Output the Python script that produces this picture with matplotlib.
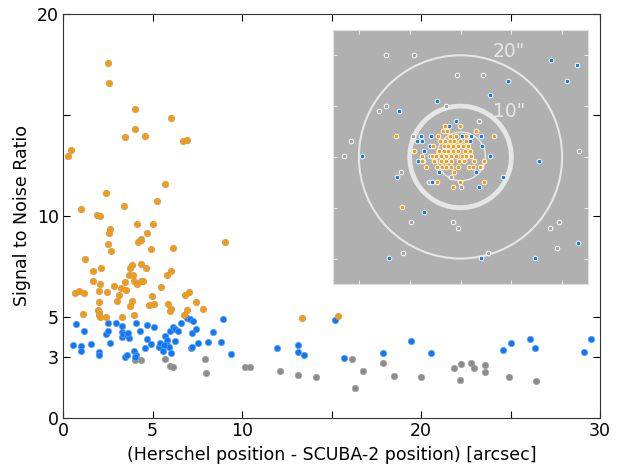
import numpy as np
import matplotlib
matplotlib.use("Agg")
import matplotlib.pyplot as plt
import matplotlib.patches as patches

# main panel: offset [arcsec] vs S/N
orange_x = [2.50, 2.59, 4.02, 6.03, 4.04, 3.45, 4.56, 6.69, 6.93, 0.43, 0.26, 5.72, 2.38, 0.99, 3.39,
            5.25, 1.88, 2.07, 2.63, 2.59, 4.13, 5.03, 4.67, 4.34, 2.51, 2.70, 4.36, 4.21, 4.93, 6.16,
            9.03, 1.25, 1.66, 2.12, 3.84, 3.76, 4.36, 4.64, 3.69, 3.93, 6.03, 5.79, 1.66, 2.09, 3.46,
            3.98, 4.12, 4.36, 4.47, 2.83, 3.26, 3.54, 5.47, 0.67, 0.89, 1.16, 2.03, 2.44, 3.15, 4.97,
            6.80, 7.06, 7.43, 2.03, 3.03, 3.85, 3.72, 4.79, 5.08, 5.88, 1.10, 1.96, 2.01, 2.03, 2.07,
            2.40, 3.31, 3.95, 6.03, 5.96, 6.91, 6.78, 7.82, 13.35, 15.36]
orange_y = [17.59, 16.58, 15.30, 14.85, 14.29, 13.90, 13.96, 13.73, 13.76, 13.27, 12.99, 11.57, 11.15, 10.36, 10.50,
            10.74, 10.06, 10.00, 9.37, 9.14, 9.59, 9.62, 9.16, 8.85, 8.63, 8.27, 8.81, 8.70, 8.35, 8.42,
            8.70, 7.86, 7.26, 7.43, 7.56, 7.44, 7.64, 7.44, 7.08, 7.08, 7.26, 7.08, 6.80, 6.65, 6.73,
            6.80, 6.63, 6.77, 6.77, 6.53, 6.45, 6.35, 6.50, 6.20, 6.30, 6.19, 6.30, 6.24, 6.09, 6.02,
            6.07, 6.22, 5.76, 5.74, 5.79, 5.81, 5.53, 5.59, 5.66, 5.64, 5.16, 5.35, 5.23, 5.08, 4.99,
            4.99, 5.01, 5.10, 5.41, 5.28, 5.35, 5.08, 5.38, 4.97, 5.05]

blue_x = [0.73, 1.19, 0.58, 1.01, 1.02, 1.58, 1.99, 2.01, 2.53, 2.94, 2.40, 2.50, 2.63, 3.30, 3.31,
          3.28, 3.37, 3.58, 3.67, 3.61, 3.46, 3.56, 3.98, 4.08, 4.01, 4.10, 4.30, 4.67, 5.07, 4.67,
          4.90, 4.58, 5.36, 5.44, 5.60, 5.72, 5.83, 5.79, 5.90, 5.99, 6.16, 6.26, 6.27, 6.41, 6.01,
          5.63, 6.59, 6.91, 7.09, 7.26, 7.19, 7.43, 7.13, 7.21, 7.56, 8.10, 8.38, 8.81, 8.96, 9.40,
          11.97, 13.11, 13.13, 13.48, 15.21, 15.68, 17.88, 19.44, 20.56, 24.56, 25.05, 26.09, 26.35, 29.11, 29.50]
blue_y = [4.65, 4.29, 3.61, 3.55, 3.33, 3.66, 3.28, 3.12, 4.69, 4.70, 4.16, 4.32, 3.71, 4.54, 4.24,
          4.02, 4.16, 4.12, 3.98, 4.19, 3.00, 3.10, 3.30, 3.10, 3.00, 4.70, 4.31, 4.62, 4.52, 3.91,
          3.66, 3.48, 3.50, 3.71, 3.30, 4.06, 3.86, 3.63, 3.53, 4.29, 4.52, 4.42, 3.83, 4.31, 3.20,
          3.61, 4.69, 4.97, 4.89, 4.82, 4.21, 4.39, 3.45, 3.53, 3.70, 3.76, 4.27, 3.78, 4.89, 3.18,
          3.47, 3.60, 3.25, 3.13, 4.85, 2.99, 3.20, 3.81, 3.20, 3.37, 3.73, 3.93, 3.47, 3.28, 3.93]

grey_x = [4.01, 4.36, 5.68, 5.99, 6.16, 7.95, 7.97, 10.18, 10.43, 12.11, 13.15, 14.15, 16.13, 16.76,
          16.31, 17.88, 18.47, 19.98, 21.86, 22.25, 22.18, 22.79, 22.98, 23.56, 23.56, 24.92, 26.44]
grey_y = [2.87, 2.86, 2.92, 2.59, 2.52, 2.92, 2.24, 2.54, 2.52, 2.34, 2.11, 2.01, 2.94, 2.31,
          1.47, 2.71, 2.06, 2.01, 2.49, 2.66, 1.88, 2.71, 2.49, 2.62, 2.26, 2.01, 1.85]

# inset: positions relative to SCUBA-2 source [arcsec]
in_grey_x = [-14.6, -9.2, -0.6, 4.4, -14.7, -16.0, -2.9, -21.6, -22.9, 23.3, -11.8, -1.8, 0.1, 3.7,
             -9.8, -1.4, -0.4, 19.3, 17.6, 18.9, -11.3, 5.5, -9.4, -6.2]
in_grey_y = [20.1, 20.1, 16.1, 16.1, 10.1, 9.0, 10.1, 3.1, 0.1, 1.1, -2.9, -3.9, -5.9, 7.1,
             -12.9, -12.9, -13.9, -12.9, -13.9, -18.0, -19.0, -19.0, 4.1, -4.9]

in_blue_x = [17.8, 22.9, 9.4, 21.0, 5.8, -4.6, -12.2, -0.8, -19.4, 15.4, 8.3, 3.7, -12.5, -7.2,
             -14.0, 4.1, 14.7, 23.2, 5.8, -2.2, -7.8, -5.9, 2.0, 4.0, -8.5, -7.6, 1.9, -6.1, 4.3,
             -7.2, -6.1, -8.4, -7.4, -4.2, 3.0, 4.0, -5.6, 1.1, -2.6, 0.2]
in_blue_y = [19.1, 18.0, 15.0, 15.0, 12.1, 11.1, 9.0, 7.1, 0.1, -0.9, -4.0, -5.9, -3.9, -10.9,
             -19.9, -19.9, -19.9, -16.9, 0.1, 6.1, 4.1, 4.1, 4.1, 4.1, 3.1, 3.1, 3.1, 2.1, 2.1,
             1.1, 0.1, -0.9, -0.9, -2.9, -2.9, -2.0, -4.9, 0.1, 1.1, 4.1]

in_orange_x = [-3.0, -0.1, -3.5, -2.7, 3.1, -4.4, -2.1, -0.8, 1.0, 6.6,
               -4.0, -3.0, -2.1, -1.3, -0.1, 1.0,
               -5.4, -3.3, -2.4, -1.4, -0.5, 0.5, 1.4,
               -9.1, -4.2, -3.3, -2.4, -1.4, -0.5, 0.8, 1.8,
               -7.5, -5.7, -4.8, -3.8, -2.8, -1.9, -0.8, 0.2, 1.0, 2.0,
               -7.6, -5.2, -3.8, -2.9, -1.9, -0.3, 0.7, 2.7, 4.6,
               -6.7, -4.6, -3.7, -2.8, -1.8, -0.5, 1.6, 2.4, 3.9,
               -1.3, -4.7, 4.6, -1.4, -0.1, -12.7, -11.6]
in_orange_y = [6.1, 6.1, 5.1, 5.1, 5.1, 4.1, 4.1, 4.1, 4.1, 4.1,
               3.1, 3.1, 3.1, 3.1, 3.1, 3.1,
               2.1, 2.1, 2.1, 2.1, 2.1, 2.1, 2.1,
               1.1, 1.1, 1.1, 1.1, 1.1, 1.1, 1.1, 1.1,
               0.1, 0.1, 0.1, 0.1, 0.1, 0.1, 0.1, 0.1, 0.1, 0.1,
               -0.8, -0.8, -0.8, -0.8, -0.8, -0.8, -0.8, -0.8, -0.8,
               -1.9, -1.9, -1.9, -1.9, -1.9, -1.9, -1.9, -1.9, -1.9,
               -2.9, -4.9, -4.9, -5.9, -5.0, 4.1, -9.9]

c_orange = '#ff9900'
c_blue = '#0a78ff'
c_grey = '#8c8c8c'

fig = plt.figure(figsize=(6.33, 4.67), dpi=100)
ax = fig.add_axes([0.0995, 0.105, 0.8485, 0.865])

ax.scatter(grey_x, grey_y, s=21, c=c_grey, edgecolors='#a0a0a0', linewidths=0.5, zorder=3)
ax.scatter(blue_x, blue_y, s=21, c=c_blue, edgecolors='#6a9fd8', linewidths=0.5, zorder=4)
ax.scatter(orange_x, orange_y, s=21, c=c_orange, edgecolors='#b0a080', linewidths=0.5, zorder=5)

ax.set_xlim(0, 30)
ax.set_ylim(0, 20)
ax.set_xticks([0, 5, 10, 15, 20, 25, 30])
ax.set_xticklabels(['0', '5', '10', '', '20', '', '30'])
ax.set_yticks([0, 3, 5, 10, 15, 20])
ax.set_yticklabels(['0', '3', '5', '10', '', '20'])
ax.tick_params(direction='in', top=True, right=True, length=5, labelsize=12.5, pad=3)
ax.set_xlabel('(Herschel position - SCUBA-2 position) [arcsec]', fontsize=12.5)
ax.set_ylabel('Signal to Noise Ratio', fontsize=12.5)
for sp in ax.spines.values():
    sp.set_color('#333333')

# inset
ins = fig.add_axes([0.526, 0.392, 0.403, 0.544])
ins.set_facecolor('#b0b0b0')
ins.set_xlim(-25, 25)
ins.set_ylim(-25, 25)
ins.set_aspect('equal')
ticks = [-20, -10, 0, 10, 20]
ins.set_xticks(ticks)
ins.set_yticks(ticks)
ins.tick_params(direction='in', top=True, right=True, length=3, color='#e8e8e8',
                labelbottom=False, labelleft=False)
for sp in ins.spines.values():
    sp.set_color('#e0e0e0')

circ_c = '#e6e6e6'
ins.add_patch(patches.Circle((0, 0), 20, fill=False, ec=circ_c, lw=1.5, zorder=1))
ins.add_patch(patches.Circle((0, 0), 10, fill=False, ec=circ_c, lw=3.5, zorder=1))
ins.add_patch(patches.Circle((0.1, 0.1), 4.8, fill=False, ec=circ_c, lw=1.0, zorder=1))
ins.text(9.5, 20.7, '20"', color=circ_c, fontsize=13.5, ha='center', va='center')
ins.text(9.5, 9.0, '10"', color=circ_c, fontsize=13.5, ha='center', va='center')

ins.scatter(in_grey_x, in_grey_y, s=11, c='#a4a4a4', edgecolors='white', linewidths=0.7, zorder=3)
ins.scatter(in_blue_x, in_blue_y, s=11, c=c_blue, edgecolors='white', linewidths=0.7, zorder=4)
ins.scatter(in_orange_x, in_orange_y, s=11, c=c_orange, edgecolors='white', linewidths=0.7, zorder=5)

fig.savefig('out.png', dpi=100)
